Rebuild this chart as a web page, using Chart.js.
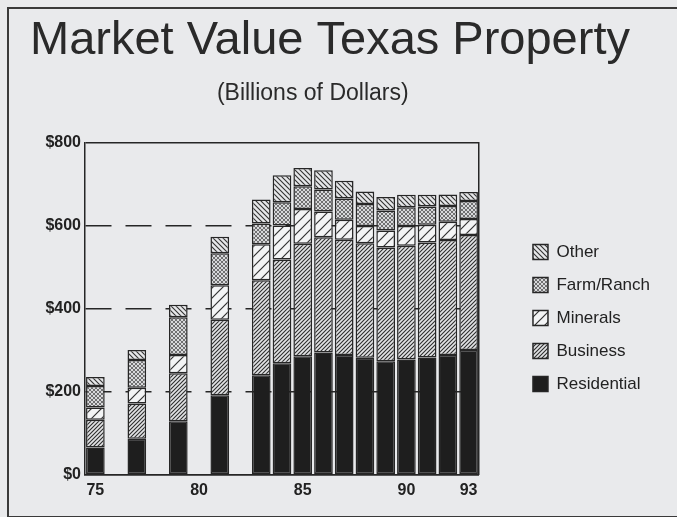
<!DOCTYPE html>
<html>
<head>
<meta charset="utf-8">
<title>Market Value Texas Property</title>
<script src="https://cdn.jsdelivr.net/npm/chart.js@4.4.1/dist/chart.umd.min.js"></script>
<style>
  html, body { margin: 0; padding: 0; background: #e9eaec; overflow: hidden; }
  .frame {
    position: absolute; left: 7px; top: 7px; width: 700px; height: 507px;
    border: 2px solid #3a3a3a; border-right: none;
  }
  .chart-box { position: absolute; left: 0; top: 0; width: 677px; height: 517px; }
</style>
</head>
<body>
<div class="frame"></div>
<div class="chart-box"><canvas id="chart"></canvas></div>
<script>
// years 75..93, gaps where the source has no bar
const years = ['75', '76', '77', '78', '79', '80', '81', '82', '83', '84',
               '85', '86', '87', '88', '89', '90', '91', '92', '93'];
const shownYears = ['75', '80', '85', '90', '93'];

// billions of dollars
const residential = [66, null, 87, null, 129, null, 192, null, 240, 269, 286, 295, 289, 282, 274, 278, 283, 289, 301];
const business    = [67, null, 85, null, 116, null, 182, null, 229, 250, 271, 278, 278, 276, 274, 274, 277, 277, 277];
const minerals    = [29, null, 38, null, 44, null, 83, null, 87, 82, 84, 62, 48, 42, 41, 48, 43, 44, 39];
const farmRanch   = [52, null, 67, null, 91, null, 77, null, 50, 56, 55, 53, 51, 53, 48, 45, 44, 38, 43];
const other       = [22, null, 24, null, 30, null, 40, null, 58, 65, 44, 46, 43, 30, 33, 30, 28, 28, 22];

const yTicks = [0, 200, 400, 600, 800];
const dashedAt = [200, 400, 600];

const ink = '#262626';
const font = '"Liberation Sans", Arial, sans-serif';

// small tiled hatch fills
function hatch(bg, fg, size, lw, dirs) {
    const c = document.createElement('canvas');
    c.width = c.height = size;
    const g = c.getContext('2d');
    g.fillStyle = bg;
    g.fillRect(0, 0, size, size);
    g.strokeStyle = fg;
    g.lineWidth = lw;
    dirs.forEach(d => {
        g.beginPath();
        if (d === '/') {
            g.moveTo(-1, size + 1); g.lineTo(size + 1, -1);
            g.moveTo(-1, 1); g.lineTo(1, -1);
            g.moveTo(size - 1, size + 1); g.lineTo(size + 1, size - 1);
        } else {
            g.moveTo(-1, -1); g.lineTo(size + 1, size + 1);
            g.moveTo(size - 1, -1); g.lineTo(size + 1, 1);
            g.moveTo(-1, size - 1); g.lineTo(1, size + 1);
        }
        g.stroke();
    });
    return g.createPattern(c, 'repeat');
}

const fills = {
    residential: '#1e1e1e',
    business: hatch('#e2e3e5', '#2e2e2e', 4, 1.1, ['/']),
    minerals: hatch('#f3f4f5', '#333333', 10, 1.2, ['/']),
    farmRanch: hatch('#d8d9db', '#555555', 4, 0.8, ['/', '\\']),
    other: hatch('#e6e7e9', '#333333', 5, 1.1, ['\\'])
};

function series(label, data, fill) {
    return {
        label: label,
        data: data,
        backgroundColor: fill,
        borderColor: ink,
        borderWidth: 1.5,
        borderSkipped: false
    };
}

const ctx = document.getElementById('chart').getContext('2d');

new Chart(ctx, {
    type: 'bar',
    data: {
        labels: years,
        datasets: [
            series('Residential', residential, fills.residential),
            series('Business', business, fills.business),
            series('Minerals', minerals, fills.minerals),
            series('Farm/Ranch', farmRanch, fills.farmRanch),
            series('Other', other, fills.other)
        ]
    },
    options: {
        responsive: true,
        maintainAspectRatio: false,
        animation: false,
        datasets: {
            bar: { barPercentage: 0.9, categoryPercentage: 1 }
        },
        layout: {
            padding: { left: 0, right: 17, top: 0, bottom: 11 }
        },
        plugins: {
            title: {
                display: true,
                text: 'Market Value Texas Property',
                color: '#2a2a2a',
                font: { family: font, size: 47, weight: 'normal' },
                padding: { top: 13, bottom: 0 }
            },
            subtitle: {
                display: true,
                // trailing spaces nudge the centred line left, as in the original
                text: '(Billions of Dollars)\u2003\u2002',
                color: '#2a2a2a',
                font: { family: font, size: 23, weight: 'normal' },
                padding: { top: 10, bottom: 36 }
            },
            legend: {
                position: 'right',
                align: 'center',
                fullSize: false,
                maxWidth: 220,
                reverse: true,
                // empty title only pushes the items down a little
                title: { display: true, text: ' ', font: { size: 10 }, padding: 3 },
                labels: {
                    color: '#222',
                    boxWidth: 15,
                    boxHeight: 15,
                    padding: 16,
                    font: { family: font, size: 17 }
                }
            },
            tooltip: { enabled: false }
        },
        scales: {
            x: {
                stacked: true,
                grid: { display: false, drawTicks: false },
                border: { display: true, color: ink, width: 1.5 },
                ticks: {
                    autoSkip: false,
                    maxRotation: 0,
                    padding: 6,
                    color: '#222',
                    font: { family: font, size: 16, weight: 'bold' },
                    callback: function (value) {
                        const lab = this.getLabelForValue(value);
                        return shownYears.includes(lab) ? lab : '';
                    }
                }
            },
            y: {
                stacked: true,
                min: 0,
                max: 800,
                afterFit: scale => { scale.width = 85; },
                afterBuildTicks: scale => { scale.ticks = yTicks.map(v => ({ value: v })); },
                grid: {
                    drawTicks: false,
                    color: ink,
                    lineWidth: 1.5
                },
                border: {
                    display: true,
                    color: ink,
                    width: 1.5,
                    dash: c => (c.tick && dashedAt.includes(c.tick.value)) ? [26, 14] : []
                },
                ticks: {
                    padding: 4,
                    color: '#222',
                    font: { family: font, size: 16, weight: 'bold' },
                    callback: v => '$' + v
                }
            },
            frameRight: {
                type: 'linear',
                position: 'right',
                afterFit: scale => { scale.width = 38; },
                grid: { drawOnChartArea: false, drawTicks: false },
                border: { display: true, color: ink, width: 1.5 },
                ticks: { display: false }
            }
        }
    }
});
</script>
</body>
</html>
